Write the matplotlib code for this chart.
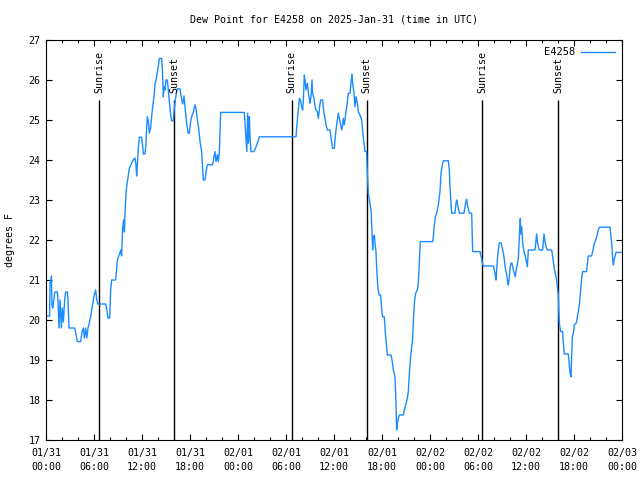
import datetime as dt
import numpy as np
import matplotlib
matplotlib.use("Agg")
import matplotlib.pyplot as plt
from matplotlib.ticker import MultipleLocator

# Dew point trace for station E4258, hours since 2025-01-31 00:00 UTC
station = "E4258"
hours = [
    0.0, 0.45, 0.5, 0.67, 0.75, 0.85, 1.1, 1.42, 1.5, 1.62, 1.75, 1.92, 2.04, 2.17, 2.33, 2.46, 2.67, 2.75, 2.87,
    3.58, 3.7, 3.92, 4.33, 4.5, 4.67, 4.8, 4.96, 5.1, 5.25, 5.38, 5.6, 5.79, 6.0, 6.21, 6.35, 6.5, 7.46, 7.6,
    7.75, 7.96, 8.08, 8.21, 8.71, 8.8, 8.92,
    9.25, 9.35, 9.45, 9.58, 9.7, 9.8, 9.875, 10.0, 10.17, 10.3, 10.42, 10.7, 10.9, 11.125, 11.25, 11.33, 11.42,
    11.54, 11.67, 11.96, 12.08, 12.17, 12.375, 12.5, 12.58, 12.67, 12.8, 12.92, 13.08, 13.2, 13.33, 13.5,
    13.625, 13.75, 13.92, 14.04, 14.17, 14.46, 14.55, 14.67, 14.75, 14.88, 15.0, 15.17, 15.29, 15.42, 15.58,
    15.71, 15.92, 16.04, 16.17, 16.29, 16.42, 16.75, 16.88, 17.08, 17.25, 17.375, 17.58, 17.79, 17.92, 18.08,
    18.2, 18.42, 18.625, 18.75, 18.92, 19.08, 19.25, 19.46, 19.58, 19.67, 19.875, 20.04, 20.17, 20.83, 21.0,
    21.125, 21.25, 21.42, 21.54, 21.67, 21.75, 21.83, 24.79, 24.85, 25.0, 25.1, 25.21, 25.3, 25.42, 25.5,
    25.625, 26.0, 26.25, 26.5, 26.67, 31.25,
    31.42, 31.54, 31.67, 31.8, 31.96, 32.08, 32.17, 32.29, 32.38, 32.5, 32.67, 32.8, 32.92, 33.0, 33.125, 33.25,
    33.33, 33.5, 33.6, 33.75, 33.92, 34.04, 34.2, 34.33, 34.58, 34.67, 34.75, 34.875, 35.0, 35.17, 35.5, 35.67,
    35.83, 36.04, 36.125, 36.25, 36.4, 36.54, 36.67, 36.83, 36.96, 37.08, 37.17, 37.29, 37.38, 37.5, 37.65,
    37.79, 38.0, 38.1, 38.25, 38.33, 38.5, 38.62, 38.75, 38.92, 39.04, 39.25, 39.46, 39.6, 39.75, 39.875,
    40.08, 40.17, 40.29, 40.5, 40.625, 40.75, 40.83, 40.92, 41.05, 41.125, 41.25, 41.33, 41.46, 41.625, 41.83,
    41.96, 42.08, 42.29, 42.42, 42.58, 42.67, 43.125, 43.25, 43.42, 43.625, 43.75, 43.83, 43.92, 44.04, 44.17,
    44.67, 44.79, 44.96, 45.125, 45.29, 45.42, 45.58, 45.71, 45.83, 45.92, 46.04, 46.21, 46.42, 46.54, 46.67,
    46.79, 48.33, 48.42, 48.5, 48.67, 48.83, 49.0, 49.125, 49.25, 49.375, 49.54, 49.67, 50.29, 50.42, 50.5,
    50.625, 50.71, 51.125, 51.25, 51.33, 51.42, 51.54, 51.67, 52.25, 52.375, 52.5, 52.58, 52.67, 52.79, 52.92,
    53.21, 53.27, 53.33, 54.25, 54.33, 54.46, 54.55, 54.67, 55.92, 56.04, 56.15, 56.25, 56.42, 56.54, 56.67,
    56.875, 57.0, 57.17, 57.3, 57.42, 57.58, 57.7, 57.79, 57.9, 58.0, 58.12, 58.25, 58.42, 58.54, 58.65, 58.75,
    58.9, 59.04, 59.17, 59.25, 59.29, 59.33, 59.46, 59.58, 59.75, 59.875, 60.0, 60.08, 60.17, 60.29, 61.125,
    61.25, 61.33, 61.42, 61.54, 61.67, 62.08, 62.17, 62.25, 62.38, 62.5, 62.67, 63.21, 63.3, 63.42, 63.54,
    63.625, 63.75, 63.83, 63.96, 64.04, 64.1, 64.17, 64.33, 64.58, 64.67, 64.79, 65.29, 65.42, 65.5, 65.625,
    65.71, 65.79, 65.92, 66.04, 66.25, 66.33, 66.42, 66.54, 66.7, 66.83, 66.96, 67.08, 67.58, 67.67, 67.79,
    68.21, 68.33, 68.5, 68.62, 68.75, 68.9, 69.04, 69.17, 70.5, 70.625, 70.75, 70.83, 70.92, 71.0, 71.125,
    71.25, 71.96,
]
dewpoint = [
    20.1, 20.1, 20.9, 21.1, 20.35, 20.3, 20.7, 20.7, 20.5, 19.8, 20.5, 19.8, 20.3, 19.95, 20.5, 20.7, 20.7, 20.5, 19.8,
    19.8, 19.7, 19.46, 19.46, 19.7, 19.8, 19.55, 19.8, 19.55, 19.8, 19.9, 20.1, 20.35, 20.6, 20.75, 20.5, 20.4, 20.4, 20.25,
    20.05, 20.05, 20.75, 21.0, 21.0, 21.2, 21.5,
    21.68, 21.75, 21.6, 22.3, 22.5, 22.2, 22.67, 23.2, 23.46, 23.62, 23.8, 23.92, 24.0, 24.05, 23.87, 23.6, 23.87,
    24.3, 24.57, 24.57, 24.35, 24.15, 24.15, 24.4, 24.8, 25.08, 24.97, 24.67, 24.8, 25.08, 25.33, 25.58,
    25.9, 26.0, 26.2, 26.35, 26.54, 26.54, 26.25, 25.58, 25.83, 25.75, 26.0, 26.0, 25.75, 25.46, 25.12,
    24.98, 24.98, 25.29, 25.5, 25.67, 25.78, 25.78, 25.6, 25.4, 25.6, 25.33, 24.92, 24.67, 24.67, 24.96,
    25.08, 25.2, 25.38, 25.29, 25.0, 24.8, 24.46, 24.21, 23.75, 23.5, 23.5, 23.75, 23.88, 23.88, 24.08,
    24.21, 23.96, 24.13, 23.96, 24.21, 24.7, 25.19, 25.19, 25.0, 24.5, 24.21, 25.17, 24.42, 25.08, 24.58,
    24.21, 24.21, 24.33, 24.46, 24.58, 24.58,
    25.0, 25.25, 25.54, 25.5, 25.33, 25.25, 25.5, 26.125, 26.0, 25.75, 25.92, 25.67, 25.54, 25.42, 25.58, 26.0,
    25.67, 25.54, 25.375, 25.25, 25.21, 25.04, 25.33, 25.5, 25.5, 25.29, 25.17, 25.04, 24.88, 24.75, 24.75, 24.5,
    24.29, 24.29, 24.5, 24.75, 24.96, 25.17, 25.04, 24.88, 24.75, 24.88, 25.04, 24.88, 25.0, 25.21, 25.42,
    25.67, 25.67, 25.875, 26.15, 25.92, 25.67, 25.33, 25.58, 25.42, 25.21, 25.125, 25.0, 24.67, 24.42, 24.21,
    24.21, 23.67, 23.17, 22.92, 22.75, 22.21, 21.75, 22.08, 22.12, 21.92, 21.71, 21.33, 20.875, 20.625, 20.625,
    20.25, 20.08, 20.08, 19.67, 19.33, 19.125, 19.125, 19.0, 18.75, 18.58, 17.92, 17.25, 17.42, 17.54, 17.625,
    17.625, 17.75, 17.875, 18.0, 18.21, 18.67, 19.08, 19.33, 19.54, 19.96, 20.42, 20.67, 20.75, 20.92, 21.46,
    21.96, 21.96, 22.08, 22.29, 22.58, 22.67, 22.83, 23.0, 23.21, 23.67, 23.88, 23.98, 23.98, 23.75, 23.33,
    22.92, 22.67, 22.67, 22.92, 23.0, 22.92, 22.79, 22.67, 22.67, 22.83, 22.96, 23.02, 22.88, 22.79, 22.67,
    22.67, 22.17, 21.71, 21.71, 21.63, 21.54, 21.42, 21.35, 21.35, 21.25, 21.13, 21.0, 21.5, 21.75, 21.93,
    21.93, 21.83, 21.67, 21.5, 21.29, 21.13, 20.96, 20.875, 21.04, 21.29, 21.42, 21.42, 21.25, 21.17, 21.08, 21.21,
    21.38, 21.54, 22.08, 22.33, 22.54, 22.15, 22.33, 21.92, 21.71, 21.63, 21.5, 21.42, 21.33, 21.75, 21.75,
    22.0, 22.15, 21.96, 21.83, 21.75, 21.75, 21.96, 22.15, 21.96, 21.83, 21.75, 21.75, 21.625, 21.46, 21.27,
    21.21, 21.08, 21.0, 20.75, 20.625, 20.25, 19.92, 19.71, 19.71, 19.42, 19.15, 19.15, 18.88, 18.67, 18.58,
    19.08, 19.58, 19.67, 19.88, 19.92, 19.96, 20.08, 20.21, 20.44, 20.75, 21.04, 21.21, 21.21, 21.42, 21.6,
    21.6, 21.71, 21.88, 21.96, 22.02, 22.13, 22.25, 22.32, 22.32, 22.08, 21.83, 21.52, 21.375, 21.5, 21.58,
    21.69, 21.69,
]

# sun events (hours since start)
sunTimes = [6.66, 16.04, 30.7, 40.08, 54.54, 64.04]
sunLabels = ["Sunrise", "Sunset", "Sunrise", "Sunset", "Sunrise", "Sunset"]

start = dt.datetime(2025, 1, 31)
xticks = np.arange(0, 73, 6)
xlabels = [(start + dt.timedelta(hours=int(h))).strftime("%m/%d\n%H:%M") for h in xticks]

plt.rcParams["font.family"] = ["DejaVu Sans Mono"]
plt.rcParams["font.size"] = 7.2

fig = plt.figure(figsize=(6.4, 4.8), dpi=100)
ax = fig.add_axes([46/640, 40/480, 576/640, 400/480])

# sunrise / sunset markers
ax.vlines(sunTimes, 17, 25.5, color="black", lw=1.0)
for t, lab in zip(sunTimes, sunLabels):
    ax.text(t, 25.68, lab, rotation=90, ha="center", va="bottom", fontsize=7.2)

ax.plot(hours, dewpoint, color="#1a8cff", lw=1.0, label=station)

ax.set_xlim(0, 72)
ax.set_ylim(17, 27)
ax.set_xticks(xticks)
ax.set_xticklabels(xlabels, linespacing=1.5)
ax.xaxis.set_minor_locator(MultipleLocator(2))
ax.yaxis.set_major_locator(MultipleLocator(1))
ax.tick_params(which="both", direction="in", top=True, right=True, width=0.8)
ax.tick_params(which="major", length=4)
ax.tick_params(which="minor", length=2.5)
ax.tick_params(axis="x", pad=6)
ax.tick_params(axis="y", pad=4)
for sp in ax.spines.values():
    sp.set_linewidth(0.8)

leg = ax.legend(loc="upper right", frameon=False, markerfirst=False, handlelength=3.2,
                borderaxespad=0.3, fontsize=7.5, handletextpad=0.6)

# title centred over the plot area, like gnuplot
fig.text(334/640, 1 - 19/480, "Dew Point for %s on 2025-Jan-31 (time in UTC)" % station,
         ha="center", va="center", fontsize=7.2)
fig.text(10/640, 0.5, "degrees F", rotation=90, ha="center", va="center", fontsize=7.2)

fig.savefig("out.png", dpi=100)
